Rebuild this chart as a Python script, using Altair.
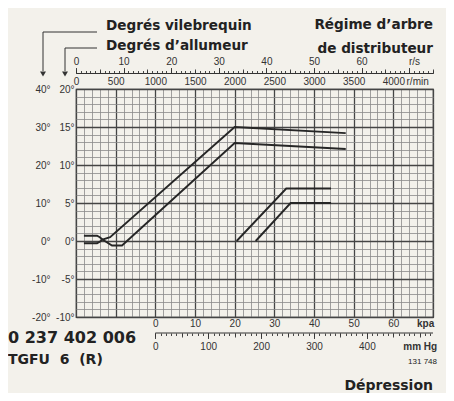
import altair as alt
import pandas as pd

# ---------------- data ----------------
# centrifugal advance, distributor degrees vs r/min
cf_upper_rpm = [100, 265, 300, 334, 430, 2000, 3400]
cf_upper_deg = [-0.3, -0.3, -0.1, 0.2, 0.5, 15.0, 14.2]
cf_lower_rpm = [100, 265, 300, 334, 454, 580, 2000, 3400]
cf_lower_deg = [0.7, 0.7, 0.5, 0.2, -0.6, -0.6, 12.9, 12.1]

# vacuum advance, distributor degrees vs kPa
vac_upper_kpa = [20.5, 33.0, 44.3]
vac_upper_deg = [0.0, 6.9, 6.9]
vac_lower_kpa = [25.3, 34.1, 44.3]
vac_lower_deg = [0.0, 5.0, 5.0]

# axis values
rpm_ticks = list(range(0, 4501, 100))
dist_ticks = list(range(-10, 21))
crank_ticks = [-20, -10, 0, 10, 20, 30, 40]
rs_minor = list(range(0, 76))
rs_mid = list(range(0, 76, 5))
rs_major = [0, 10, 20, 30, 40, 50, 60, 70]
rs_unit_at = 71
kpa_ticks = [0, 10, 20, 30, 40, 50, 60]
kpa_unit_at = 68
mmhg_minor = list(range(0, 521, 10))
mmhg_mid = list(range(0, 521, 50))
mmhg_major = [0, 100, 200, 300, 400]
mmhg_unit_at = 500

RPM_DOM = [0, 4500]
KPA_DOM = [-20, 70]
RS_DOM = [0, 75]
MMHG_DOM = [-20 * 7.50062, 70 * 7.50062]
DIST_DOM = [-10, 20]
CRANK_DOM = [-20, 40]

W, H = 357, 228
INK = "#262626"
LFONT = "Liberation Sans"


def long_df(name, xs, ys, xname):
    return pd.DataFrame({"curve": name, "i": list(range(len(xs))), xname: xs, "deg": ys})


cf_df = pd.concat([long_df("upper", cf_upper_rpm, cf_upper_deg, "rpm"),
                   long_df("lower", cf_lower_rpm, cf_lower_deg, "rpm")])
vac_df = pd.concat([long_df("upper", vac_upper_kpa, vac_upper_deg, "kpa"),
                    long_df("lower", vac_lower_kpa, vac_lower_deg, "kpa")])


def cond(test, a, b):
    return {"condition": {"test": test, "value": a}, "value": b}


lab = dict(labelFont=LFONT, labelFontSize=10, labelColor="#333", labelFlush=False,
           labelOverlap=False, title=None)

# ---------------- centrifugal curves + grid ----------------
cf = alt.Chart(cf_df).mark_line(color=INK, strokeWidth=1.9).encode(
    x=alt.X("rpm:Q", scale=alt.Scale(domain=RPM_DOM, nice=False, zero=False),
            axis=alt.Axis(orient="top", values=rpm_ticks, format="d", ticks=False, tickSize=0,
                          domain=False, labelPadding=3,
                          labelExpr="datum.value % 500 === 0 && datum.value <= 4000 ? datum.label : (datum.value == 4300 ? ' r/min' : '')",
                          grid=True,
                          gridColor=cond("datum.value % 500 === 0", "#454545", "#8a8a8a"),
                          gridWidth=cond("datum.value % 500 === 0", 1.3, 0.8), **lab)),
    y=alt.Y("deg:Q", scale=alt.Scale(domain=DIST_DOM, nice=False, zero=False),
            axis=alt.Axis(orient="left", values=dist_ticks, ticks=False, tickSize=0, domain=False,
                          labelPadding=2,
                          labelExpr="datum.value % 5 === 0 ? datum.value + '°' : ''",
                          grid=True,
                          gridColor=cond("datum.value % 5 === 0", "#454545", "#8a8a8a"),
                          gridWidth=cond("datum.value % 5 === 0", 1.3, 0.8), **lab)),
    detail="curve:N",
    order="i:Q",
)

# ---------------- vacuum curves (kPa scale) ----------------
vac = alt.Chart(vac_df).mark_line(color=INK, strokeWidth=1.9).encode(
    x=alt.X("kpa:Q", scale=alt.Scale(domain=KPA_DOM, nice=False, zero=False),
            axis=alt.Axis(orient="bottom", values=kpa_ticks + [kpa_unit_at], ticks=False, tickSize=0,
                          domain=False, grid=False, labelPadding=1,
                          labelExpr=f"datum.value == {kpa_unit_at} ? 'kpa' : datum.label",
                          labelFontWeight=cond(f"datum.value == {kpa_unit_at}", "bold", "normal"), **lab)),
    y=alt.Y("deg:Q", scale=alt.Scale(domain=DIST_DOM, nice=False, zero=False), axis=None),
    detail="curve:N",
    order="i:Q",
)


# ---------------- helper for printed scales ----------------
def scale_axis(field, values, dom, orient, offset, size, label_expr=None, domain=False,
               padding=2, weight=None, hide_tick_at=None):
    kw = dict(orient=orient, offset=offset, values=values, domain=domain, domainColor="#333",
              domainWidth=1, ticks=True, tickColor="#333", tickWidth=0.9, tickSize=size,
              grid=False, labelPadding=padding, **lab)
    if label_expr is None:
        kw["labels"] = False
    else:
        kw["labelExpr"] = label_expr
    if weight is not None:
        kw["labelFontWeight"] = weight
    if hide_tick_at is not None:
        kw["tickOpacity"] = cond(f"datum.value == {hide_tick_at}", 0, 1)
    return alt.Chart(pd.DataFrame({field: values})).mark_point(opacity=0).encode(
        x=alt.X(f"{field}:Q", scale=alt.Scale(domain=dom, nice=False, zero=False),
                axis=alt.Axis(**kw)),
        y=alt.value(0),
    )


# r/s scale (top)
rs_a = scale_axis("rs", rs_minor, RS_DOM, "top", 16, 2.5, domain=True)
rs_b = scale_axis("rs", rs_mid, RS_DOM, "top", 16, 4)
rs_c = scale_axis("rs", rs_major + [rs_unit_at], RS_DOM, "top", 16, 5.5,
                  label_expr=f"datum.value == {rs_unit_at} ? 'r/s' : (datum.value <= 60 ? datum.label : '')",
                  padding=1, hide_tick_at=rs_unit_at)

# mm Hg scale (bottom)
mm_a = scale_axis("mmhg", mmhg_minor, MMHG_DOM, "bottom", 16, 2.5)
mm_b = scale_axis("mmhg", mmhg_mid, MMHG_DOM, "bottom", 16, 4)
mm_c = scale_axis("mmhg", mmhg_major + [mmhg_unit_at], MMHG_DOM, "bottom", 16, 5.5,
                  label_expr=f"datum.value == {mmhg_unit_at} ? 'mm Hg' : datum.label",
                  padding=3, weight=cond(f"datum.value == {mmhg_unit_at}", "bold", "normal"),
                  hide_tick_at=mmhg_unit_at)
mm_line = alt.Chart(pd.DataFrame({"a": [0]})).mark_rule(color="#333", strokeWidth=1).encode(
    x=alt.XDatum(0, scale=alt.Scale(domain=MMHG_DOM, nice=False, zero=False), axis=None),
    x2=alt.X2Datum(MMHG_DOM[1]),
    y=alt.value(244),
)

# ---------------- crankshaft degrees (left) ----------------
crank = alt.Chart(pd.DataFrame({"crank": crank_ticks})).mark_point(opacity=0).encode(
    y=alt.Y("crank:Q", scale=alt.Scale(domain=CRANK_DOM, nice=False, zero=False),
            axis=alt.Axis(orient="left", offset=26, values=crank_ticks, ticks=False, tickSize=0,
                          domain=False, grid=False, labelPadding=0,
                          labelExpr="datum.value + '°'", **lab)),
    x=alt.value(0),
)

# ---------------- annotations ----------------
one = pd.DataFrame({"a": [0]})
NB = "\u00a0"


def txt(s, x, y, size, weight="bold", align="left", font="DejaVu Sans"):
    return alt.Chart(one).mark_text(text=s, align=align, baseline="alphabetic", fontSize=size,
                                    fontWeight=weight, font=font, color="#222").encode(
        x=alt.value(x), y=alt.value(y))


def rule(x, y, x2=None, y2=None):
    enc = dict(x=alt.value(x), y=alt.value(y))
    if x2 is not None:
        enc["x2"] = alt.value(x2)
    if y2 is not None:
        enc["y2"] = alt.value(y2)
    return alt.Chart(one).mark_rule(color="#333", strokeWidth=1).encode(**enc)


def head(x, y):
    return alt.Chart(one).mark_point(shape="triangle-down", filled=True, size=35, color="#333",
                                     opacity=1).encode(x=alt.value(x), y=alt.value(y))


notes = [
    txt("Degrés vilebrequin", 30, -59, 13.6),
    txt("Degrés d’allumeur", 30, -39, 13.6),
    txt("Régime d’arbre", 357, -60, 13.6, align="right"),
    txt("de distributeur", 357, -36, 13.6, align="right"),
    txt("0 237 402 006", -68, 254, 16),
    txt(f"TGFU{NB}{NB}6{NB}{NB}(R)", -68, 275, 14),
    txt("Dépression", 357, 301, 14, align="right"),
    txt("131 748", 361, 275, 8, weight="normal", align="right", font=LFONT),
    rule(-33, -57, x2=21),
    rule(-33, -57, y2=-18),
    head(-33, -15),
    rule(-11, -41, x2=21),
    rule(-11, -41, y2=-18),
    head(-11, -15),
]

chart = alt.layer(cf, vac, rs_a, rs_b, rs_c, mm_a, mm_b, mm_c, mm_line, crank, *notes).resolve_scale(
    x="independent", y="independent"
).properties(
    width=W, height=H,
    autosize=alt.AutoSizeParams(type="none"),
    padding={"left": 68, "top": 81, "right": 13, "bottom": 76},
    background="#f3f1eb",
).configure_view(stroke="#333", strokeWidth=1.2)

chart.save("out.html", embed_options={"renderer": "svg", "actions": False})
